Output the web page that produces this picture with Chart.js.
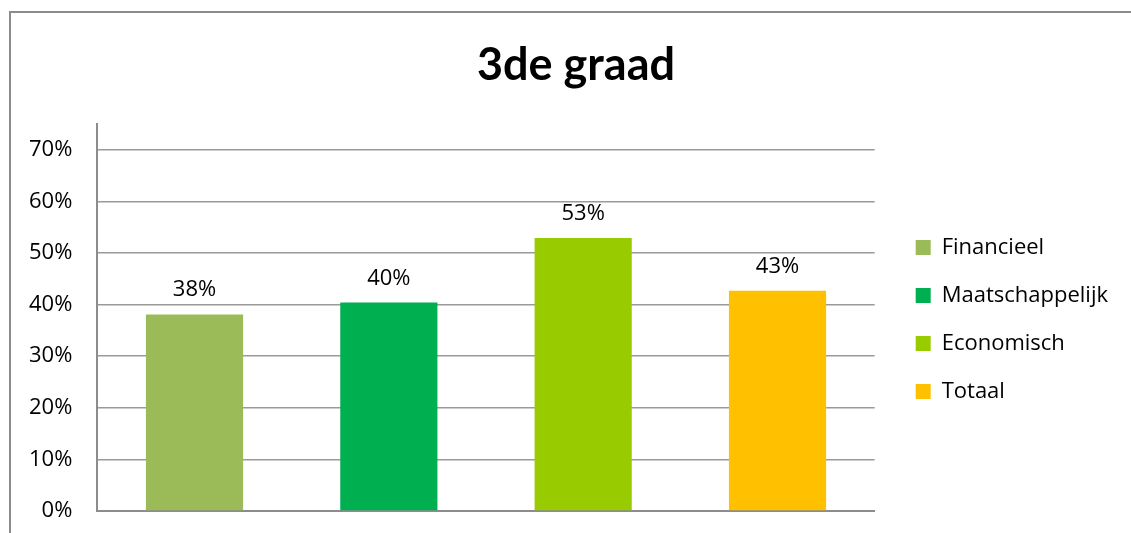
<!DOCTYPE html>
<html>
<head>
<meta charset="utf-8">
<script src="https://cdn.jsdelivr.net/npm/chart.js@4"></script>
<style>
  html, body { margin: 0; padding: 0; background: #fff; overflow: hidden; width: 1131px; height: 533px; }
  #frame { position: absolute; left: 9px; top: 11px; width: 1132px; height: 540px; border-left: 2px solid #8c8c8c; border-top: 2px solid #8c8c8c; }
  #wrap { position: absolute; left: 0; top: 0; width: 1130px; height: 520px; }
</style>
</head>
<body>
<div id="frame"><div id="wrap"><canvas id="c"></canvas></div></div>
<script>
const title = '3de graad';
const categories = [''];
const seriesNames = ['Financieel', 'Maatschappelijk', 'Economisch', 'Totaal'];
const seriesValues = [0.381, 0.404, 0.529, 0.427];
const dataLabels = ['38%', '40%', '53%', '43%'];
const seriesColors = ['#9BBB59', '#00B050', '#99CC00', '#FFC000'];
const yTickValues = [0, 0.1, 0.2, 0.3, 0.4, 0.5, 0.6, 0.7];

const FONT = '"Open Sans", Lato, sans-serif';
const TITLE_FONT = 'Lato, "Open Sans", sans-serif';

const datasets = seriesNames.map((name, i) => ({
  label: name,
  data: [seriesValues[i]],
  backgroundColor: seriesColors[i],
  borderWidth: 0,
  categoryPercentage: 1.0,
  barPercentage: 0.5
}));

const labelPlugin = {
  id: 'valueLabels',
  afterDatasetsDraw(chart) {
    const ctx = chart.ctx;
    ctx.save();
    ctx.font = '22px ' + FONT;
    ctx.fillStyle = '#000';
    ctx.textAlign = 'center';
    ctx.textBaseline = 'alphabetic';
    chart.data.datasets.forEach((ds, i) => {
      const meta = chart.getDatasetMeta(i);
      const bar = meta.data[0];
      ctx.fillText(dataLabels[i], bar.x, bar.y - 18);
    });
    ctx.restore();
  }
};

const boxShift = {
  id: 'boxShift',
  afterLayout(chart) {
    const lg = chart.legend;
    lg.left += 15; lg.right += 15;
    lg.top += 2; lg.bottom += 2;
    const tb = chart.titleBlock;
    if (tb) { tb.left += 11.5; tb.right += 11.5; }
  }
};

new Chart(document.getElementById('c'), {
  type: 'bar',
  data: { labels: categories, datasets },
  plugins: [labelPlugin, boxShift],
  options: {
    responsive: true,
    maintainAspectRatio: false,
    animation: false,
    layout: { padding: { left: 15, right: 38, top: 0, bottom: 22 } },
    plugins: {
      title: {
        display: true,
        text: title,
        color: '#000',
        font: { family: TITLE_FONT, size: 45, weight: 'bold', lineHeight: 1.2 },
        padding: { top: 25, bottom: 32 }
      },
      legend: {
        display: true,
        position: 'right',
        align: 'center',
        fullSize: false,
        labels: {
          color: '#000',
          font: { family: FONT, size: 22 },
          boxWidth: 15,
          boxHeight: 15,
          padding: 26
        }
      },
      tooltip: { enabled: false }
    },
    scales: {
      x: {
        ticks: { display: false },
        grid: { display: false, drawTicks: false },
        border: { display: true, color: '#8c8c8c', width: 2 }
      },
      y: {
        min: 0,
        max: 0.75,
        afterBuildTicks(scale) {
          scale.ticks = yTickValues.map(v => ({ value: v }));
        },
        ticks: {
          color: '#000',
          font: { family: FONT, size: 22 },
          padding: 3,
          callback: v => Math.round(v * 100) + '%'
        },
        grid: { color: '#9a9a9a', lineWidth: 1.5, drawTicks: true, tickLength: 22, tickColor: 'rgba(0,0,0,0)' },
        border: { display: true, color: '#8c8c8c', width: 2 }
      }
    }
  }
});
</script>
</body>
</html>
